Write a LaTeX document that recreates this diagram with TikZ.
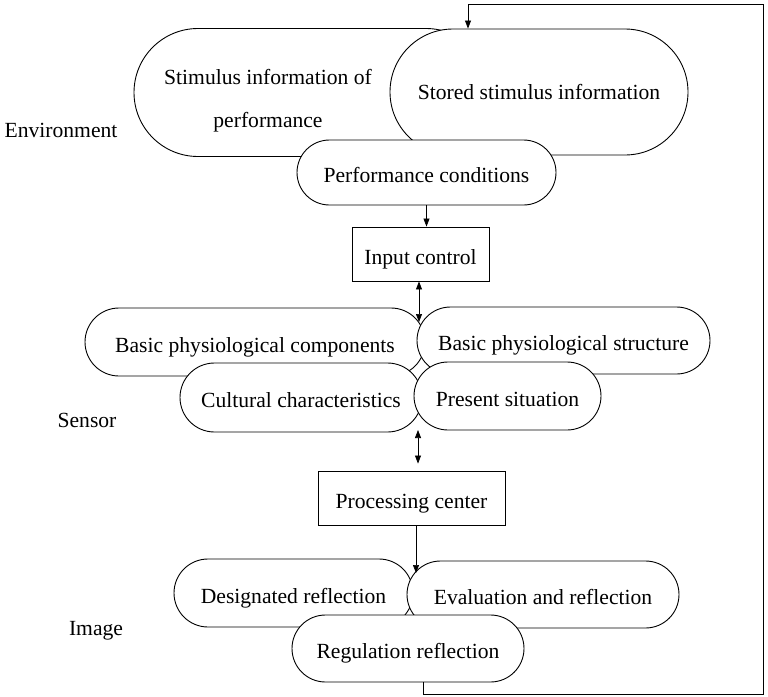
\documentclass[tikz,border=0pt]{standalone}
\usepackage{fontspec}
\setmainfont{Liberation Serif}
\usetikzlibrary{positioning, arrows.meta}

\tikzset{
  pill/.style 2 args={draw, fill=white, line width=0.9pt, minimum width=#1, minimum height=#2, rounded corners=#2/2, inner sep=0pt},
  stagebox/.style 2 args={draw, fill=white, line width=0.9pt, minimum width=#1, minimum height=#2, inner sep=0pt},
  lowtext/.style={text height=20pt, text depth=0pt},
  flow/.style={line width=0.7pt, -{Triangle[length=8pt, width=6pt]}},
  flowboth/.style={line width=0.7pt, {Triangle[length=8pt, width=6pt]}-{Triangle[length=8pt, width=6pt]}},
}

\begin{document}
\begin{tikzpicture}[x=1pt, y=-1pt, every node/.style={font=\fontsize{21.6}{26}\selectfont, align=center}]
    \useasboundingbox (0,0) rectangle (768,696);

    % environment
    \node[pill={356pt}{128pt}] (stimulus) at (312,92.5) {};
    \node[font=\fontsize{21.6}{43}\selectfont] (stimtext) at (268,101) {Stimulus information of\\ performance};
    \node[pill={298pt}{126pt}] (stored) at (539,92) {Stored stimulus information};
    \node[pill={259pt}{65pt}, lowtext] (perf) at (426.5,172.5) {Performance conditions};
    \node (env) at (61,130) {Environment};

    \node[stagebox={137pt}{54pt}, lowtext] (input) at (420.5,254) {Input control};

    % sensor
    \node[pill={340pt}{68pt}, lowtext] (comps) at (255,342) {Basic physiological components};
    \node[pill={293pt}{67pt}, lowtext] (struct) at (563.5,340.5) {Basic physiological structure};
    \node[pill={242pt}{69pt}, lowtext] (cult) at (301,397.5) {Cultural characteristics};
    \node[pill={187pt}{68pt}, lowtext] (present) at (507.5,396) {Present situation};
    \node (sensor) at (87,420) {Sensor};
    \coordinate (sensetop) at (419,322);
    \coordinate (sensebot) at (418,430);

    \node[stagebox={187pt}{54pt}, lowtext] (proc) at (411.5,498) {Processing center};

    % image
    \node[pill={239pt}{68pt}, lowtext] (desig) at (293.5,593) {Designated reflection};
    \node[pill={272pt}{67pt}, lowtext] (evalr) at (543,594.5) {Evaluation and reflection};
    \node[pill={232pt}{67pt}, lowtext] (regul) at (408,648.5) {Regulation reflection};
    \node (image) at (96,631) {Image};
    \coordinate (reflecttop) at (416,573);

    % connectors
    \draw[flow] (perf.south) -- (perf.south |- input.north);
    \draw[flowboth] (input.south -| sensetop) -- (sensetop);
    \draw[flowboth, shorten >=7pt] (sensebot) -- (sensebot |- proc.north);
    \draw[flow] (proc.south -| reflecttop) -- (reflecttop);

    % feedback loop
    \coordinate (fbbr) at (763,694);
    \coordinate (fbtr) at (763,4);
    \draw[flow] ([xshift=15pt]regul.south) |- (fbbr) -- (fbtr) -| ([xshift=-71pt]stored.north);
\end{tikzpicture}
\end{document}
